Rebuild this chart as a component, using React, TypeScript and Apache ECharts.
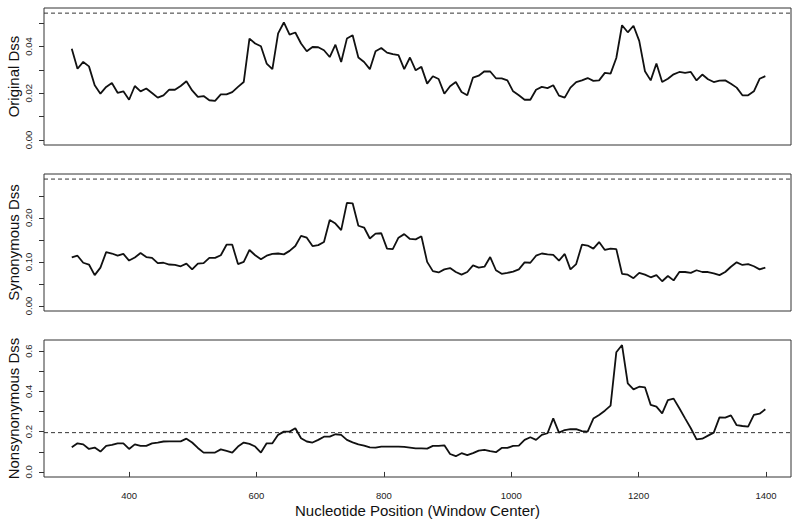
import React, { useEffect, useRef } from "react";
import * as echarts from "echarts";

const positions: number[] = Array.from({ length: 122 }, (_, i) => 310 + 9 * i);

const originalDss = [
  0.0391, 0.0305, 0.0334, 0.0315, 0.0234, 0.0198, 0.0227, 0.0244, 0.0202, 0.0208,
  0.0172, 0.0231, 0.0208, 0.0220, 0.0201, 0.0181, 0.0191, 0.0215, 0.0215, 0.0231,
  0.0251, 0.0212, 0.0184, 0.0188, 0.0170, 0.0167, 0.0195, 0.0195, 0.0205, 0.0227,
  0.0248, 0.0434, 0.0413, 0.0401, 0.0327, 0.0303, 0.0456, 0.0503, 0.0451, 0.0460,
  0.0413, 0.0380, 0.0398, 0.0397, 0.0384, 0.0355, 0.0408, 0.0334, 0.0434, 0.0448,
  0.0353, 0.0334, 0.0303, 0.0380, 0.0394, 0.0374, 0.0367, 0.0363, 0.0303, 0.0353,
  0.0298, 0.0313, 0.0241, 0.0273, 0.0261, 0.0198, 0.0230, 0.0248, 0.0205, 0.0191,
  0.0267, 0.0275, 0.0294, 0.0293, 0.0264, 0.0264, 0.0255, 0.0208, 0.0191, 0.0172,
  0.0172, 0.0215, 0.0227, 0.0222, 0.0234, 0.0190, 0.0181, 0.0224, 0.0248, 0.0255,
  0.0265, 0.0253, 0.0255, 0.0287, 0.0284, 0.0351, 0.0491, 0.0461, 0.0489, 0.0424,
  0.0294, 0.0255, 0.0327, 0.0248, 0.0262, 0.0281, 0.0291, 0.0287, 0.0291, 0.0255,
  0.0280, 0.0260, 0.0248, 0.0254, 0.0255, 0.0241, 0.0224, 0.0191, 0.0191, 0.0208,
  0.0262, 0.0273,
];

const synonymousDss = [
  0.110, 0.114, 0.098, 0.094, 0.070, 0.087, 0.122, 0.119, 0.114, 0.118,
  0.103, 0.110, 0.120, 0.111, 0.109, 0.097, 0.098, 0.094, 0.093, 0.090,
  0.096, 0.083, 0.096, 0.097, 0.109, 0.109, 0.115, 0.139, 0.139, 0.095,
  0.100, 0.127, 0.115, 0.106, 0.114, 0.118, 0.119, 0.117, 0.125, 0.136,
  0.159, 0.155, 0.136, 0.138, 0.145, 0.195, 0.187, 0.172, 0.234, 0.233,
  0.182, 0.178, 0.153, 0.164, 0.165, 0.130, 0.129, 0.155, 0.163, 0.152,
  0.151, 0.158, 0.100, 0.079, 0.076, 0.083, 0.086, 0.077, 0.071, 0.077,
  0.092, 0.087, 0.089, 0.111, 0.081, 0.073, 0.075, 0.078, 0.083, 0.099,
  0.098, 0.114, 0.119, 0.117, 0.116, 0.103, 0.118, 0.083, 0.095, 0.139,
  0.137, 0.130, 0.145, 0.127, 0.130, 0.129, 0.073, 0.071, 0.063, 0.075,
  0.071, 0.065, 0.070, 0.056, 0.068, 0.058, 0.077, 0.077, 0.075, 0.081,
  0.077, 0.077, 0.074, 0.070, 0.077, 0.089, 0.099, 0.093, 0.095, 0.090,
  0.083, 0.087,
];

const nonsynonymousDss = [
  0.122, 0.142, 0.137, 0.114, 0.121, 0.101, 0.129, 0.134, 0.142, 0.142,
  0.114, 0.137, 0.129, 0.129, 0.142, 0.146, 0.151, 0.152, 0.152, 0.152,
  0.165, 0.146, 0.119, 0.096, 0.096, 0.096, 0.112, 0.104, 0.096, 0.126,
  0.146, 0.139, 0.126, 0.096, 0.142, 0.142, 0.184, 0.200, 0.200, 0.217,
  0.167, 0.151, 0.146, 0.159, 0.175, 0.175, 0.187, 0.184, 0.159, 0.147,
  0.137, 0.131, 0.122, 0.121, 0.126, 0.126, 0.126, 0.126, 0.124, 0.121,
  0.117, 0.117, 0.116, 0.129, 0.129, 0.132, 0.089, 0.078, 0.093, 0.083,
  0.093, 0.106, 0.109, 0.103, 0.098, 0.119, 0.119, 0.129, 0.131, 0.159,
  0.172, 0.159, 0.184, 0.192, 0.266, 0.195, 0.208, 0.212, 0.212, 0.203,
  0.200, 0.265, 0.283, 0.304, 0.329, 0.594, 0.630, 0.440, 0.410, 0.423,
  0.420, 0.333, 0.324, 0.291, 0.357, 0.364, 0.316, 0.266, 0.217, 0.162,
  0.165, 0.180, 0.195, 0.271, 0.270, 0.281, 0.232, 0.228, 0.225, 0.283,
  0.289, 0.311,
];

const thresholds = [0.0543, 0.288, 0.195];

const panelNames = ["Original Dss", "Synonymous Dss", "Nonsynonymous Dss"];
const yRanges = [
  [-0.00217, 0.0565],
  [-0.01152, 0.2995],
  [-0.0252, 0.655],
];
const yTicks = [
  [0, 0.01, 0.02, 0.03, 0.04, 0.05],
  [0, 0.05, 0.1, 0.15, 0.2, 0.25],
  [0, 0.1, 0.2, 0.3, 0.4, 0.5, 0.6],
];
const yLabels = [
  [0, 0.02, 0.04],
  [0, 0.1, 0.2],
  [0, 0.2, 0.4, 0.6],
];
const yDecimals = [2, 2, 1];
const xRange = [266.4, 1439.3];
const xTicks = [400, 600, 800, 1000, 1200, 1400];
const xTitle = "Nucleotide Position (Window Center)";

const FONT = "Liberation Sans, Arial, Helvetica, sans-serif";

export default function App() {
  const ref = useRef<HTMLDivElement>(null);

  useEffect(() => {
    if (!ref.current) return;
    const chart = echarts.init(ref.current, null, { renderer: "svg" });
    const seriesData = [originalDss, synonymousDss, nonsynonymousDss];
    const tops = [8, 174, 340];
    const panelHeight = 137;

    const grid = tops.map((t) => ({
      left: 44,
      width: 747,
      top: t,
      height: panelHeight,
      show: true,
      borderColor: "#333",
      borderWidth: 1,
      backgroundColor: "transparent",
      containLabel: false,
      outerBoundsMode: "none",
    }));

    const xAxis = tops.map((_, k) => ({
      type: "value",
      gridIndex: k,
      min: xRange[0],
      max: xRange[1],
      axisLine: { show: false },
      splitLine: { show: false },
      axisTick: {
        show: k === 2,
        length: 5,
        lineStyle: { color: "#333" },
        customValues: xTicks,
      },
      axisLabel: {
        show: k === 2,
        customValues: xTicks,
        margin: 13,
        fontSize: 9.5,
        color: "#222",
        fontFamily: FONT,
        formatter: (v: number) => String(v),
      },
      name: k === 2 ? xTitle : "",
      nameLocation: "middle",
      nameGap: 26,
      nameTextStyle: { fontSize: 15, color: "#111", fontFamily: FONT },
    }));

    const yAxis = tops.map((_, k) => ({
      type: "value",
      gridIndex: k,
      min: yRanges[k][0],
      max: yRanges[k][1],
      axisLine: { show: false },
      splitLine: { show: false },
      axisTick: {
        show: true,
        length: 5,
        lineStyle: { color: "#333" },
        customValues: yTicks[k],
      },
      axisLabel: {
        customValues: yLabels[k],
        rotate: 90,
        margin: 11,
        fontSize: 9.5,
        color: "#222",
        fontFamily: FONT,
        formatter: (v: number) => v.toFixed(yDecimals[k]),
      },
    }));

    const series: any[] = [];
    seriesData.forEach((arr, k) => {
      series.push({
        type: "line",
        xAxisIndex: k,
        yAxisIndex: k,
        data: positions.map((x, i) => [x, arr[i]]),
        showSymbol: false,
        symbol: "none",
        lineStyle: { color: "#111", width: 1.8 },
        z: 3,
      });
      series.push({
        type: "line",
        xAxisIndex: k,
        yAxisIndex: k,
        data: [
          [xRange[0], thresholds[k]],
          [xRange[1], thresholds[k]],
        ],
        showSymbol: false,
        symbol: "none",
        silent: true,
        lineStyle: { color: "#333", type: [4, 3], width: 1 },
        z: 2,
      });
    });

    const yTitles = panelNames.map((name, k) => ({
      type: "text",
      x: 13,
      y: tops[k] + panelHeight / 2,
      rotation: Math.PI / 2,
      style: {
        text: name,
        fontSize: 15,
        fontFamily: FONT,
        fill: "#111",
        align: "center",
        verticalAlign: "middle",
      },
    }));

    chart.setOption({
      animation: false,
      backgroundColor: "#fff",
      grid,
      xAxis,
      yAxis,
      series,
      graphic: yTitles,
    } as any);

    return () => chart.dispose();
  }, []);

  return (
    <div
      ref={ref}
      style={{ position: "absolute", left: 0, top: 0, width: 800, height: 527 }}
    />
  );
}
